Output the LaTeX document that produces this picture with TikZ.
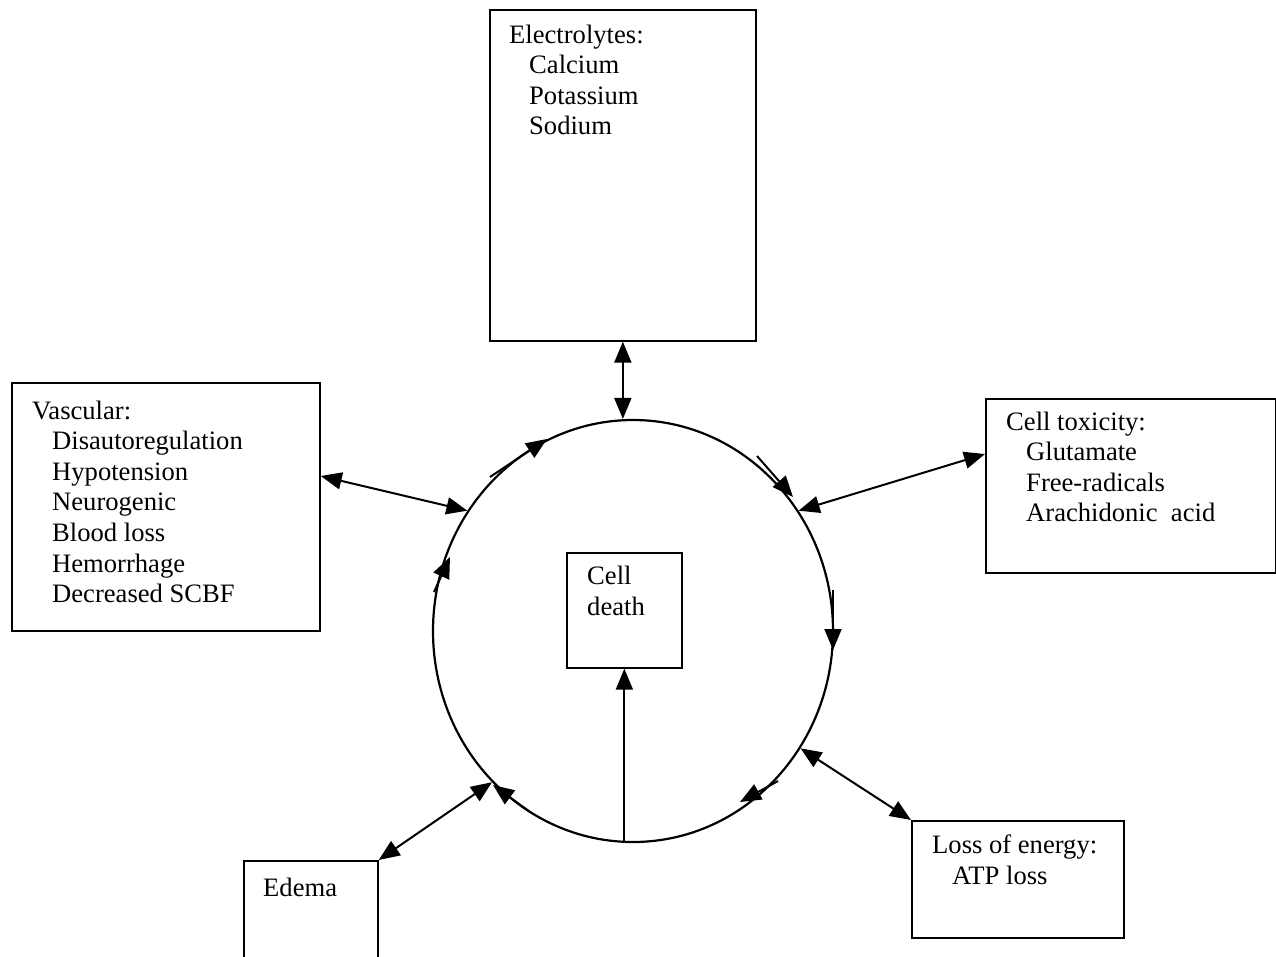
\documentclass[tikz,border=0pt]{standalone}
\usepackage{fontspec}
\setmainfont{Liberation Serif}
\usetikzlibrary{arrows.meta,positioning,shapes.geometric}
\newcommand{\subitm}{\hspace*{20pt}}
\tikzset{
  box/.style={draw=black, line width=1.7pt, inner sep=0pt, anchor=north west},
  txt/.style={font=\fontsize{26.6}{30.6}\selectfont, align=left, inner sep=0pt, anchor=north west},
  ring/.style={draw=black, line width=2.2pt, ellipse, inner sep=0pt, minimum width=400pt, minimum height=422pt},
  link/.style={{Triangle[length=21pt,width=17pt]}-{Triangle[length=21pt,width=17pt]}, line width=2pt},
  flow/.style={-{Triangle[length=21pt,width=17pt]}, line width=2pt}
}
\begin{document}
\begin{tikzpicture}[x=1pt,y=-1pt]
\useasboundingbox (0,0) rectangle (1276,956);
% boxes
\node[box, minimum width=266pt, minimum height=331pt] (elec) at (489,9) {};
\node[box, minimum width=308pt, minimum height=248pt] (vasc) at (11,382) {};
\node[box, minimum width=290pt, minimum height=174pt] (tox) at (985,398) {};
\node[box, minimum width=212pt, minimum height=117pt] (energy) at (911,820) {};
\node[box, minimum width=134pt, minimum height=110pt] (edema) at (243,860) {};
\node[box, minimum width=115pt, minimum height=115pt] (death) at (566,552) {};
\node[ring] (cyc) at (633,631) {};
% texts
\node[txt] at ([shift={(20,15.5)}]elec.north west) {Electrolytes:\\\subitm Calcium\\\subitm Potassium\\\subitm Sodium};
\node[txt] at ([shift={(21,18.5)}]vasc.north west) {Vascular:\\\subitm Disautoregulation\\\subitm Hypotension\\\subitm Neurogenic\\\subitm Blood loss\\\subitm Hemorrhage\\\subitm Decreased SCBF};
\node[txt] at ([shift={(21,13.5)}]tox.north west) {Cell toxicity:\\\subitm Glutamate\\\subitm Free-radicals\\\subitm Arachidonic~~acid};
\node[txt] at ([shift={(21,15)}]energy.north west) {Loss of energy:\\\subitm ATP loss};
\node[txt] at ([shift={(20,17.5)}]edema.north west) {Edema};
\node[txt] at ([shift={(21,14)}]death.north west) {Cell\\death};
% links to the cycle
\draw[link] (elec.south) -- (elec.south |- cyc.north);
\draw[link] (vasc.east |- 0,476) -- (cyc.144);
\draw[link] (tox.west |- 0,454) -- (cyc.36);
\draw[link] (energy.north west) -- (cyc.-35);
\draw[link] (edema.north east) -- (cyc.227);
\draw[flow] (death.south |- cyc.south) -- (death.south);
% clockwise flow on the cycle
\foreach \xa/\ya/\xb/\yb in {490/477/547/439, 434/592/450/557, 757/456/793/497,
                             833/590/833/650, 778/781/740/802, 530/812/493/785}
  \draw[flow] (\xa,\ya) -- (\xb,\yb);
\end{tikzpicture}
\end{document}
